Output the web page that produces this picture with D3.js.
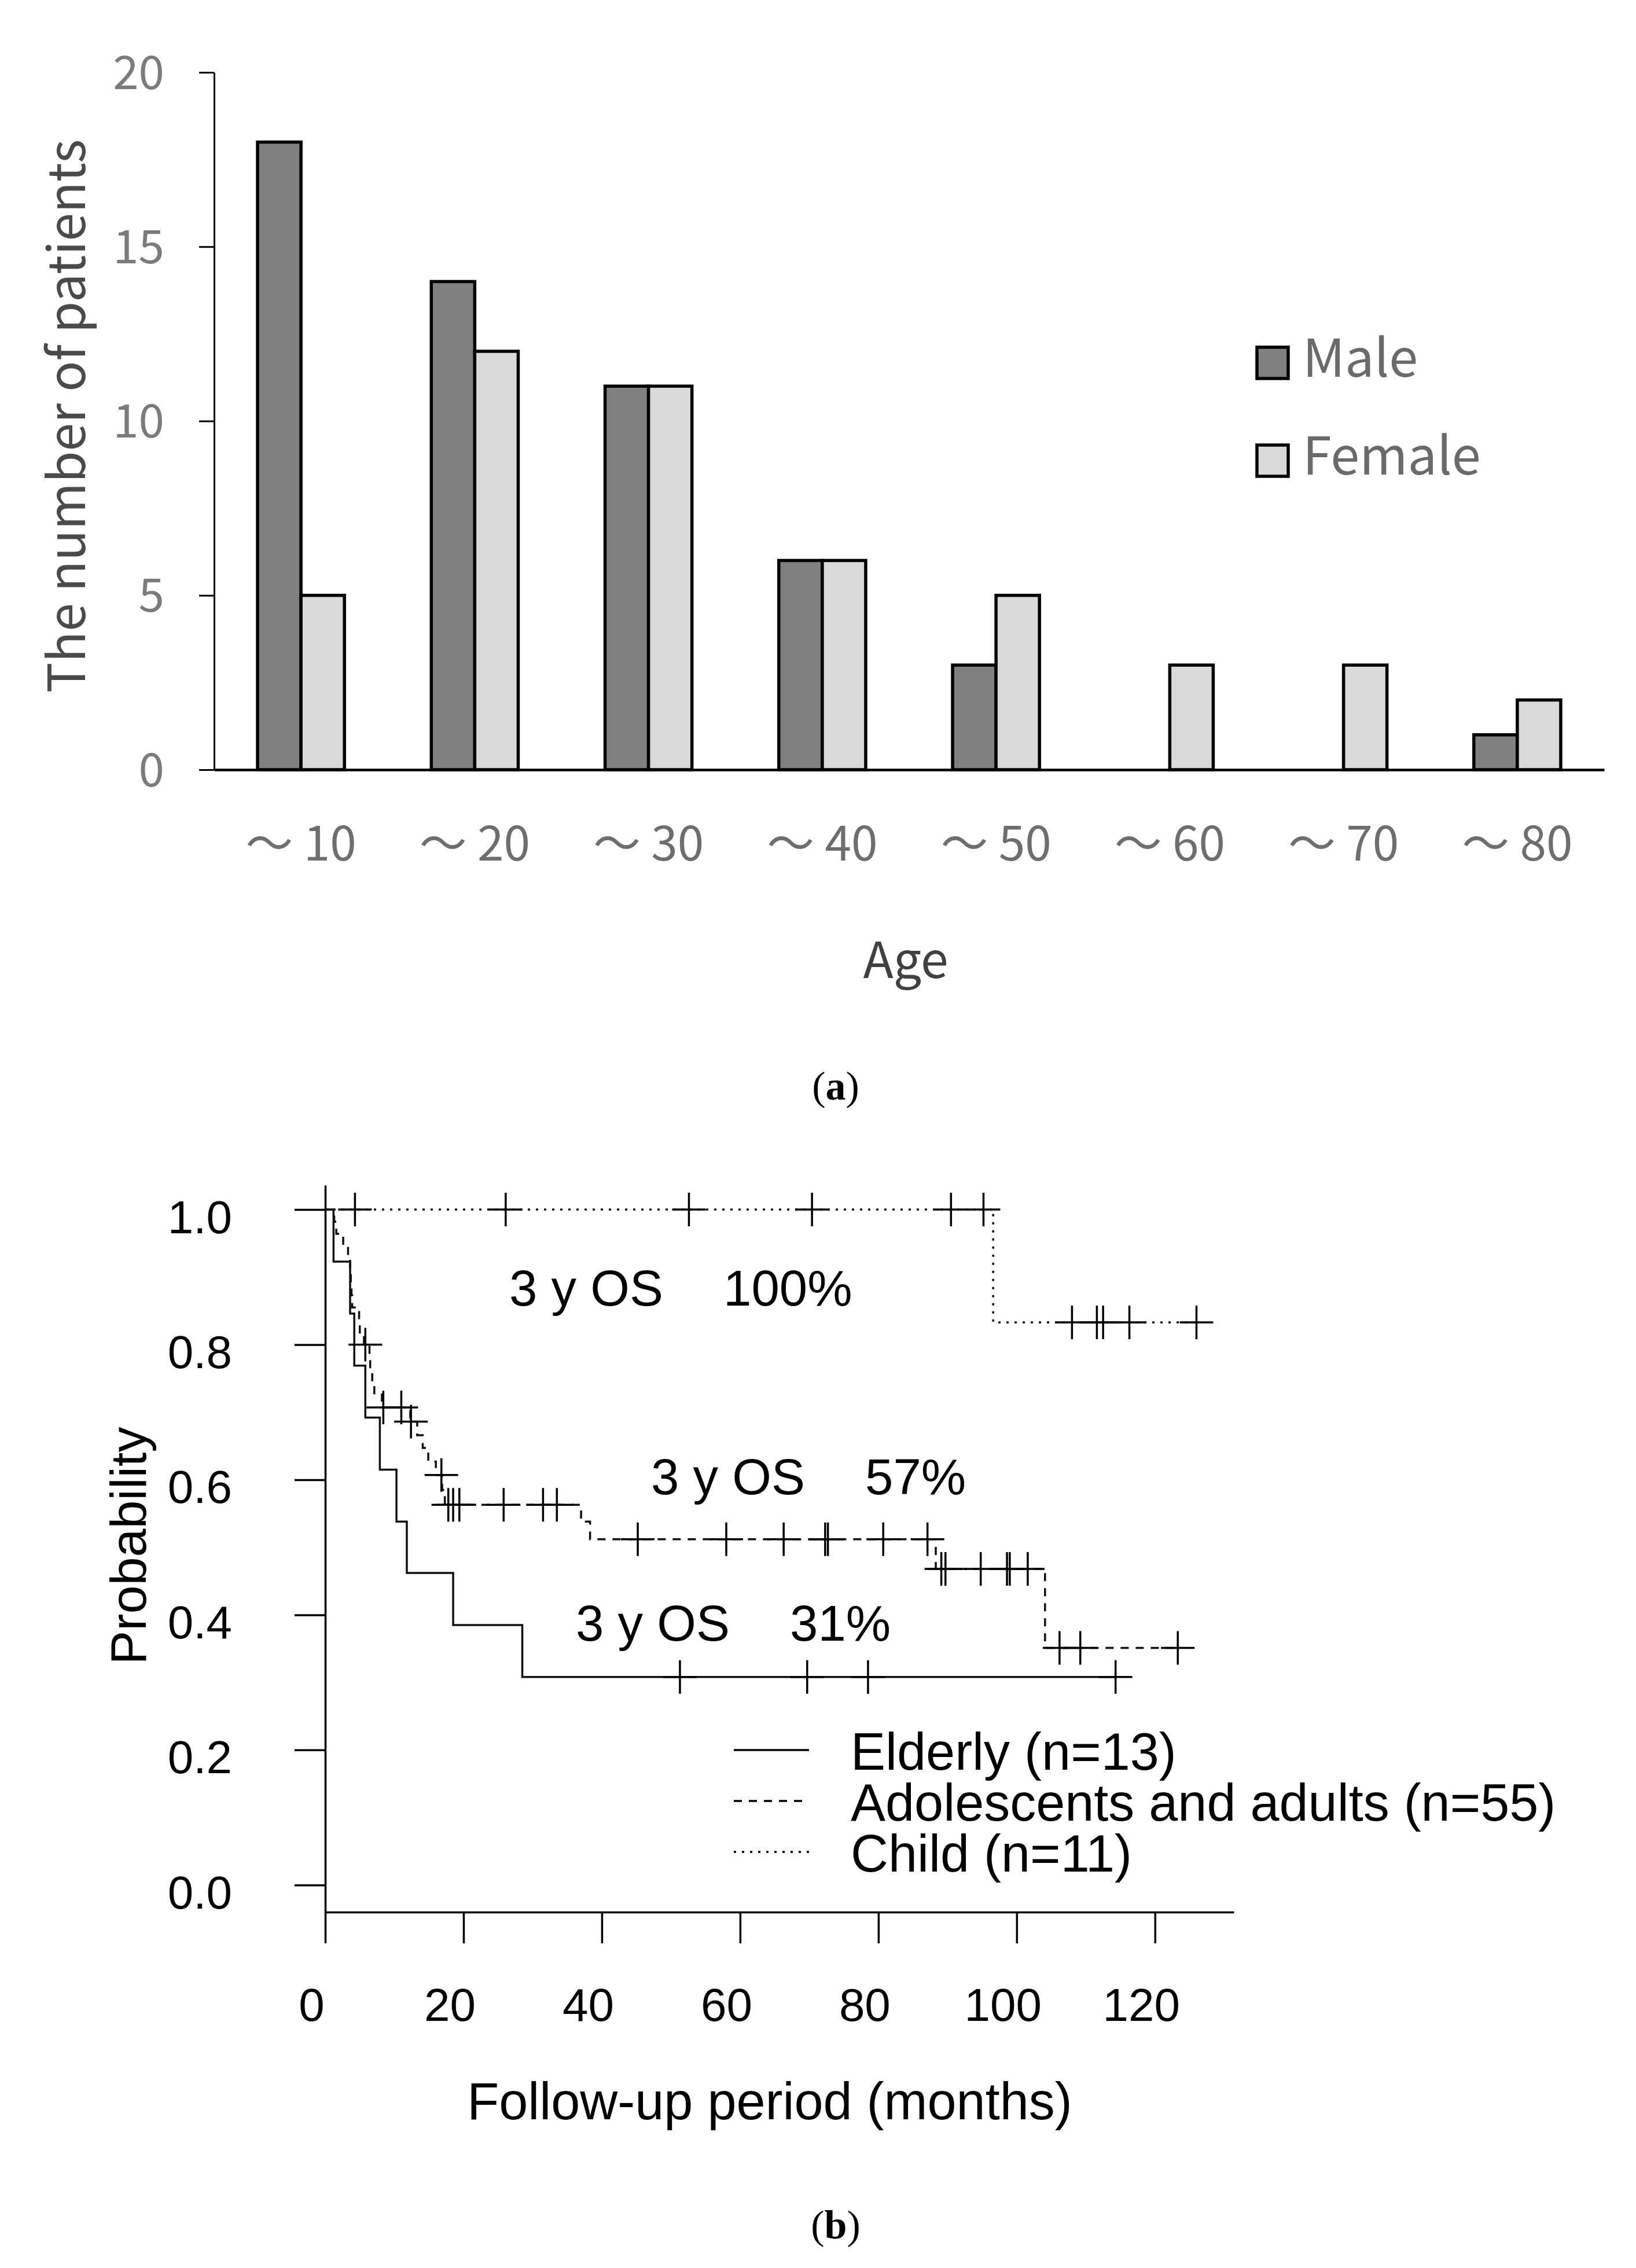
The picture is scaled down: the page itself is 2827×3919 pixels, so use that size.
<!DOCTYPE html>
<html>
<head>
<meta charset="utf-8">
<script src="https://cdn.jsdelivr.net/npm/d3@7"></script>
<style>
    body { margin: 0; background: #ffffff; }
</style>
</head>
<body>
<div id="chart"></div>
<script>

/* * * * * * * * * * * * * *
 *          data            *
 * * * * * * * * * * * * * */

// (a) patients by age group and sex
const ageGroups = ["～ 10", "～ 20", "～ 30", "～ 40", "～ 50", "～ 60", "～ 70", "～ 80"];
const maleCounts = [18, 14, 11, 6, 3, 0, 0, 1];
const femaleCounts = [5, 12, 11, 6, 5, 3, 3, 2];
const sexLabels = ["Male", "Female"];
const countTicks = [0, 5, 10, 15, 20];

// (b) Kaplan-Meier curves: step times / survival after each step / censored times (months)
const elderlyTimes = [1.2, 3.6, 4.2, 5.8, 7.9, 10.3, 11.8, 18.5, 28.5];
const elderlySurv = [0.923, 0.846, 0.769, 0.692, 0.615, 0.538, 0.462, 0.385, 0.308];
const elderlyCensor = [51.3, 69.7, 78.5, 114.3];

const adultTimes = [1.3, 1.6, 2.6, 3.3, 3.6, 3.7, 3.8, 3.9, 4.9, 5.0, 5.6, 6.4, 6.5, 6.8, 7.1, 8.2,
    12.3, 13.3, 14.1, 14.9, 16.0, 16.9, 17.3, 37.0, 38.3, 88.3, 104.1];
const adultSurv = [0.982, 0.964, 0.945, 0.927, 0.909, 0.891, 0.873, 0.855, 0.836, 0.818, 0.800, 0.781,
    0.763, 0.744, 0.726, 0.707, 0.686, 0.666, 0.647, 0.627, 0.607, 0.585, 0.563, 0.538, 0.512, 0.468, 0.351];
const adultCensor = [5.8, 8.4, 11.0, 12.4, 16.8, 17.8, 18.5, 19.4, 25.8, 31.5, 33.5, 45.2, 58.0, 66.3,
    72.3, 72.7, 80.7, 87.1, 89.1, 89.7, 94.8, 98.6, 99.0, 101.6, 106.2, 109.2, 123.3];

const childTimes = [96.6];
const childSurv = [0.833];
const childCensor = [4.3, 26.1, 52.6, 70.4, 90.5, 95.2, 108.0, 111.6, 112.5, 116.3, 126.0];

const groupLabels = ["Elderly (n=13)", "Adolescents and adults (n=55)", "Child (n=11)"];
const osLabels = ["3 y OS", "3 y OS", "3 y OS"];
const osValues = ["31%", "57%", "100%"];
const monthTicks = [0, 20, 40, 60, 80, 100, 120];
const probTicks = [0, 0.2, 0.4, 0.6, 0.8, 1.0];


const svg = d3.select("#chart").append("svg")
    .attr("width", 2827)
    .attr("height", 3919)
    .style("display", "block");

const jpFont = "'Noto Sans CJK JP', 'Noto Sans', sans-serif";
const arial = "'Liberation Sans', Arial, sans-serif";
const serif = "'Liberation Serif', 'Times New Roman', serif";


/* * * * * * * * * * * * * *
 *      class BarVis        *
 * * * * * * * * * * * * * */

class BarVis {

    constructor(svg) {
        this.svg = svg;
        this.data = ageGroups.map((g, i) => ({group: g, Male: maleCounts[i], Female: femaleCounts[i]}));
        this.initVis();
    }

    initVis() {
        let vis = this;
        vis.left = 370;
        vis.right = 2772;
        vis.top = 125;
        vis.bottom = 1330;

        vis.g = vis.svg.append("g").attr("class", "bar-vis");

        vis.xScale = d3.scaleBand()
            .domain(ageGroups)
            .range([vis.left, vis.right])
            .paddingInner(0.5)
            .paddingOuter(0.25);

        vis.xSub = d3.scaleBand()
            .domain(sexLabels)
            .range([0, vis.xScale.bandwidth()]);

        vis.yScale = d3.scaleLinear()
            .domain([0, 20])
            .range([vis.bottom, vis.top]);

        vis.colors = d3.scaleOrdinal().domain(sexLabels).range(["#808080", "#d9d9d9"]);

        // y axis
        vis.yAxis = d3.axisLeft(vis.yScale)
            .tickValues(countTicks)
            .tickSize(26)
            .tickSizeOuter(0)
            .tickPadding(60);

        vis.g.append("g")
            .attr("class", "yAxis")
            .attr("transform", `translate(${vis.left}, 0)`)
            .call(vis.yAxis)
            .call(g => g.selectAll("path, line").attr("stroke", "#000").attr("stroke-width", 3))
            .selectAll("text")
            .attr("dy", "0.35em")
            .style("font-family", jpFont)
            .style("font-size", "80px")
            .style("fill", "#7b7b7b");

        // x axis
        vis.xAxis = d3.axisBottom(vis.xScale)
            .tickSize(0)
            .tickSizeOuter(0);

        vis.g.append("g")
            .attr("class", "xAxis")
            .attr("transform", `translate(0, ${vis.bottom})`)
            .call(vis.xAxis)
            .call(g => g.select(".domain").attr("stroke", "#000").attr("stroke-width", 4.5))
            .selectAll("text")
            .attr("y", 157)
            .attr("dy", 0)
            .style("font-family", jpFont)
            .style("font-size", "82px")
            .style("fill", "#6e6e6e");

        // axis titles
        vis.g.append("text")
            .text("The number of patients")
            .attr("transform", `translate(147, 719) rotate(-90)`)
            .attr("text-anchor", "middle")
            .style("font-family", jpFont)
            .style("font-size", "88px")
            .style("fill", "#4a4a4a");

        vis.g.append("text")
            .text("Age")
            .attr("x", 1565)
            .attr("y", 1690)
            .attr("text-anchor", "middle")
            .style("font-family", jpFont)
            .style("font-size", "86px")
            .style("fill", "#404040");

        // legend
        vis.legend = vis.g.selectAll(".legend-item")
            .data(sexLabels)
            .enter()
            .append("g")
            .attr("class", "legend-item")
            .attr("transform", (d, i) => `translate(2172, ${600 + i * 169})`);

        vis.legend.append("rect")
            .attr("width", 54)
            .attr("height", 54)
            .attr("fill", d => vis.colors(d))
            .attr("stroke", "#000")
            .attr("stroke-width", 5.5);

        vis.legend.append("text")
            .text(d => d)
            .attr("x", 79)
            .attr("y", 51)
            .style("font-family", jpFont)
            .style("font-size", "90px")
            .style("fill", "#6a6a6a");

        vis.updateVis();
    }

    updateVis() {
        let vis = this;

        let groups = vis.g.selectAll(".bar-group")
            .data(vis.data)
            .enter()
            .append("g")
            .attr("class", "bar-group")
            .attr("transform", d => `translate(${vis.xScale(d.group)}, 0)`);

        groups.selectAll(".myrect")
            .data(d => sexLabels.map(s => ({sex: s, value: d[s]})).filter(e => e.value > 0))
            .enter()
            .append("rect")
            .attr("class", "myrect")
            .attr("x", d => vis.xSub(d.sex))
            .attr("y", d => vis.yScale(d.value))
            .attr("width", vis.xSub.bandwidth())
            .attr("height", d => vis.bottom - vis.yScale(d.value))
            .attr("fill", d => vis.colors(d.sex))
            .attr("stroke", "#000")
            .attr("stroke-width", 5.5);
    }
}


/* * * * * * * * * * * * * *
 *    class SurvivalVis     *
 * * * * * * * * * * * * * */

class SurvivalVis {

    constructor(svg) {
        this.svg = svg;
        this.data = [
            {label: groupLabels[0], times: elderlyTimes, surv: elderlySurv, censor: elderlyCensor, dash: null},
            {label: groupLabels[1], times: adultTimes, surv: adultSurv, censor: adultCensor, dash: "14,12"},
            {label: groupLabels[2], times: childTimes, surv: childSurv, censor: childCensor, dash: "4,10"}
        ];
        this.initVis();
    }

    initVis() {
        let vis = this;

        vis.g = vis.svg.append("g").attr("class", "km-vis");

        vis.x = d3.scaleLinear().domain([0, 131.4]).range([562, 2132]);
        vis.y = d3.scaleLinear().domain([-0.04, 1.036]).range([3304, 2048]);

        vis.yAxis = d3.axisLeft(vis.y)
            .tickValues(probTicks)
            .tickFormat(d3.format(".1f"))
            .tickSize(53)
            .tickSizeOuter(0)
            .tickPadding(108);

        vis.g.append("g")
            .attr("class", "yAxis")
            .attr("transform", `translate(${vis.x(0)}, 0)`)
            .call(vis.yAxis)
            .call(g => g.selectAll("path, line").attr("stroke", "#000").attr("stroke-width", 3.5))
            .selectAll("text")
            .attr("dy", "0.5em")
            .style("font-family", arial)
            .style("font-size", "80px")
            .style("fill", "#000");

        vis.xAxis = d3.axisBottom(vis.x)
            .tickValues(monthTicks)
            .tickSize(54)
            .tickSizeOuter(0);

        vis.g.append("g")
            .attr("class", "xAxis")
            .attr("transform", `translate(0, ${vis.y(-0.04)})`)
            .call(vis.xAxis)
            .call(g => g.selectAll("path, line").attr("stroke", "#000").attr("stroke-width", 3.5))
            .selectAll("text")
            .attr("y", 188)
            .attr("dy", 0)
            .attr("dx", -24)
            .style("font-family", arial)
            .style("font-size", "80px")
            .style("fill", "#000");

        vis.g.append("text")
            .text("Probability")
            .attr("transform", `translate(252, 2671) rotate(-90)`)
            .attr("text-anchor", "middle")
            .style("font-family", arial)
            .style("font-size", "88px")
            .style("fill", "#000");

        vis.g.append("text")
            .text("Follow-up period (months)")
            .attr("x", 1330)
            .attr("y", 3662)
            .attr("text-anchor", "middle")
            .style("font-family", arial)
            .style("font-size", "90px")
            .style("fill", "#000");

        // 3-year OS annotations (elderly, adults, child)
        vis.osPos = [{x: 995, y: 2835}, {x: 1125, y: 2582}, {x: 880, y: 2256}];
        let os = vis.g.selectAll(".os-label")
            .data(osLabels)
            .enter()
            .append("g")
            .attr("class", "os-label")
            .style("font-family", arial)
            .style("font-size", "87px")
            .style("fill", "#000");
        os.append("text")
            .attr("x", (d, i) => vis.osPos[i].x)
            .attr("y", (d, i) => vis.osPos[i].y)
            .text(d => d);
        os.append("text")
            .attr("x", (d, i) => vis.osPos[i].x + 370)
            .attr("y", (d, i) => vis.osPos[i].y)
            .text((d, i) => osValues[i]);

        // legend
        let leg = vis.g.selectAll(".km-legend")
            .data(vis.data)
            .enter()
            .append("g")
            .attr("class", "km-legend")
            .attr("transform", (d, i) => `translate(0, ${3024 + i * 88})`);
        leg.append("line")
            .attr("x1", 1268)
            .attr("x2", 1398)
            .attr("stroke", "#000")
            .attr("stroke-width", 3.5)
            .attr("stroke-dasharray", d => d.dash);
        leg.append("text")
            .attr("x", 1470)
            .attr("y", 34)
            .text(d => d.label)
            .style("font-family", arial)
            .style("font-size", "90px")
            .style("fill", "#000");

        // captions
        vis.svg.append("text")
            .attr("x", 1444)
            .attr("y", 1900)
            .attr("text-anchor", "middle")
            .style("font-family", serif)
            .style("font-size", "70px")
            .html("(<tspan font-weight='bold'>a</tspan>)");
        vis.svg.append("text")
            .attr("x", 1444)
            .attr("y", 3868)
            .attr("text-anchor", "middle")
            .style("font-family", serif)
            .style("font-size", "70px")
            .html("(<tspan font-weight='bold'>b</tspan>)");

        vis.wrangleData();
    }

    wrangleData() {
        let vis = this;

        vis.data.forEach(d => {
            let end = d3.max([d3.max(d.censor), d3.max(d.times)]);
            d.points = [[0, 1]].concat(d.times.map((t, i) => [t, d.surv[i]]));
            d.points.push([end, d.surv[d.surv.length - 1]]);
            d.marks = d.censor.map(t => {
                let idx = d3.bisectRight(d.times, t);
                return [t, idx === 0 ? 1 : d.surv[idx - 1]];
            });
        });

        vis.updateVis();
    }

    updateVis() {
        let vis = this;

        vis.line = d3.line()
            .x(d => vis.x(d[0]))
            .y(d => vis.y(d[1]))
            .curve(d3.curveStepAfter);

        let curves = vis.g.selectAll(".km-curve")
            .data(vis.data.slice().reverse())
            .enter()
            .append("g")
            .attr("class", "km-curve");

        curves.append("path")
            .attr("d", d => vis.line(d.points))
            .attr("fill", "none")
            .attr("stroke", "#111")
            .attr("stroke-width", 3.5)
            .attr("stroke-dasharray", d => d.dash);

        curves.selectAll(".censor")
            .data(d => d.marks)
            .enter()
            .append("path")
            .attr("class", "censor")
            .attr("d", d => {
                let cx = vis.x(d[0]), cy = vis.y(d[1]);
                return `M${cx - 29},${cy}H${cx + 29}M${cx},${cy - 29}V${cy + 29}`;
            })
            .attr("stroke", "#000")
            .attr("stroke-width", 3.5)
            .attr("fill", "none");
    }
}

let myBarVis = new BarVis(svg);
let mySurvivalVis = new SurvivalVis(svg);

</script>
</body>
</html>
